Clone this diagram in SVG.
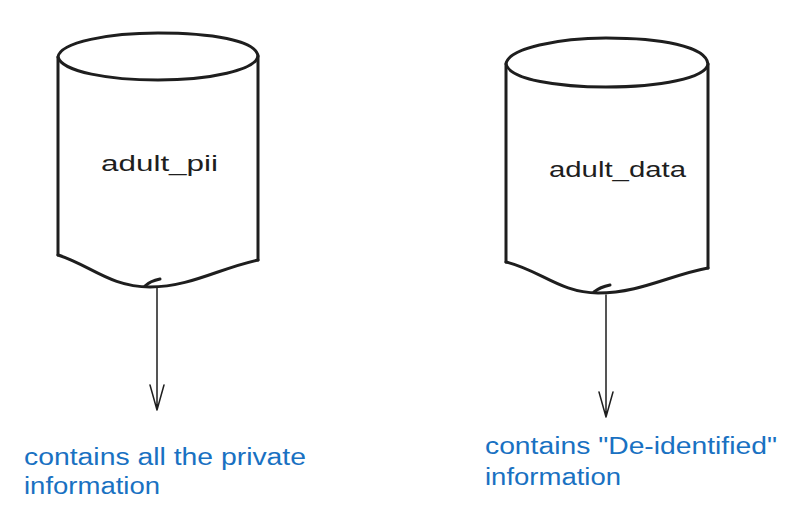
<svg xmlns="http://www.w3.org/2000/svg" width="807" height="522" viewBox="0 0 807 522">
<style>
.cyl{fill:none;stroke:#1e1e1e;stroke-width:3;stroke-linecap:round;stroke-linejoin:round}
.lbl{font-family:"Liberation Sans",Arial,sans-serif;font-size:22px;fill:#1e1e1e}
.note{font-family:"Liberation Sans",Arial,sans-serif;font-size:23px;fill:#1971c2}
.conn{fill:none;stroke:#1e1e1e;stroke-width:1.5;stroke-linecap:round;stroke-linejoin:round}
</style>
<rect width="807" height="522" fill="#ffffff"/>
<g id="adult_pii">
<path class="cyl" d="M58,57 C60,42 110,33 158,33 C210,33 256,40 258,56 C256,70 210,80 158,80 C110,80 62,72 58,57 Z"/>
<path class="cyl" d="M58,57 L58,255 M258,56 L258,260"/>
<path class="cyl" d="M58,255 C90,265 110,287 150,287 C190,287 220,268 258,260"/>
<path class="cyl" d="M145,286 Q150,281 160,279"/>
<text class="lbl" x="101" y="171" textLength="117" lengthAdjust="spacingAndGlyphs">adult_pii</text>
</g>
<g id="adult_data">
<path class="cyl" d="M506,64 C508,48 560,38 606,38 C660,38 706,46 708,64 C706,78 660,87 606,87 C560,87 510,80 506,64 Z"/>
<path class="cyl" d="M506,64 L506,262 M708,64 L708,268"/>
<path class="cyl" d="M506,262 C540,270 560,293 598,293 C640,293 670,275 708,268"/>
<path class="cyl" d="M594,292 Q600,287 610,285"/>
<text class="lbl" x="549" y="177" textLength="137" lengthAdjust="spacingAndGlyphs">adult_data</text>
</g>
<g id="connectors">
<path class="conn" d="M157,288 L157,410 M150,385 L157,410 L164,385"/>
<path class="conn" d="M606,295 L606,417 M599,392 L606,417 L613,392"/>
</g>
<g id="note_pii">
<text class="note" x="24" y="465" textLength="282" lengthAdjust="spacingAndGlyphs">contains all the private</text>
<text class="note" x="24" y="494" textLength="136" lengthAdjust="spacingAndGlyphs">information</text>
</g>
<g id="note_data">
<text class="note" x="485" y="454" textLength="292" lengthAdjust="spacingAndGlyphs">contains "De-identified"</text>
<text class="note" x="485" y="485" textLength="136" lengthAdjust="spacingAndGlyphs">information</text>
</g>
</svg>
